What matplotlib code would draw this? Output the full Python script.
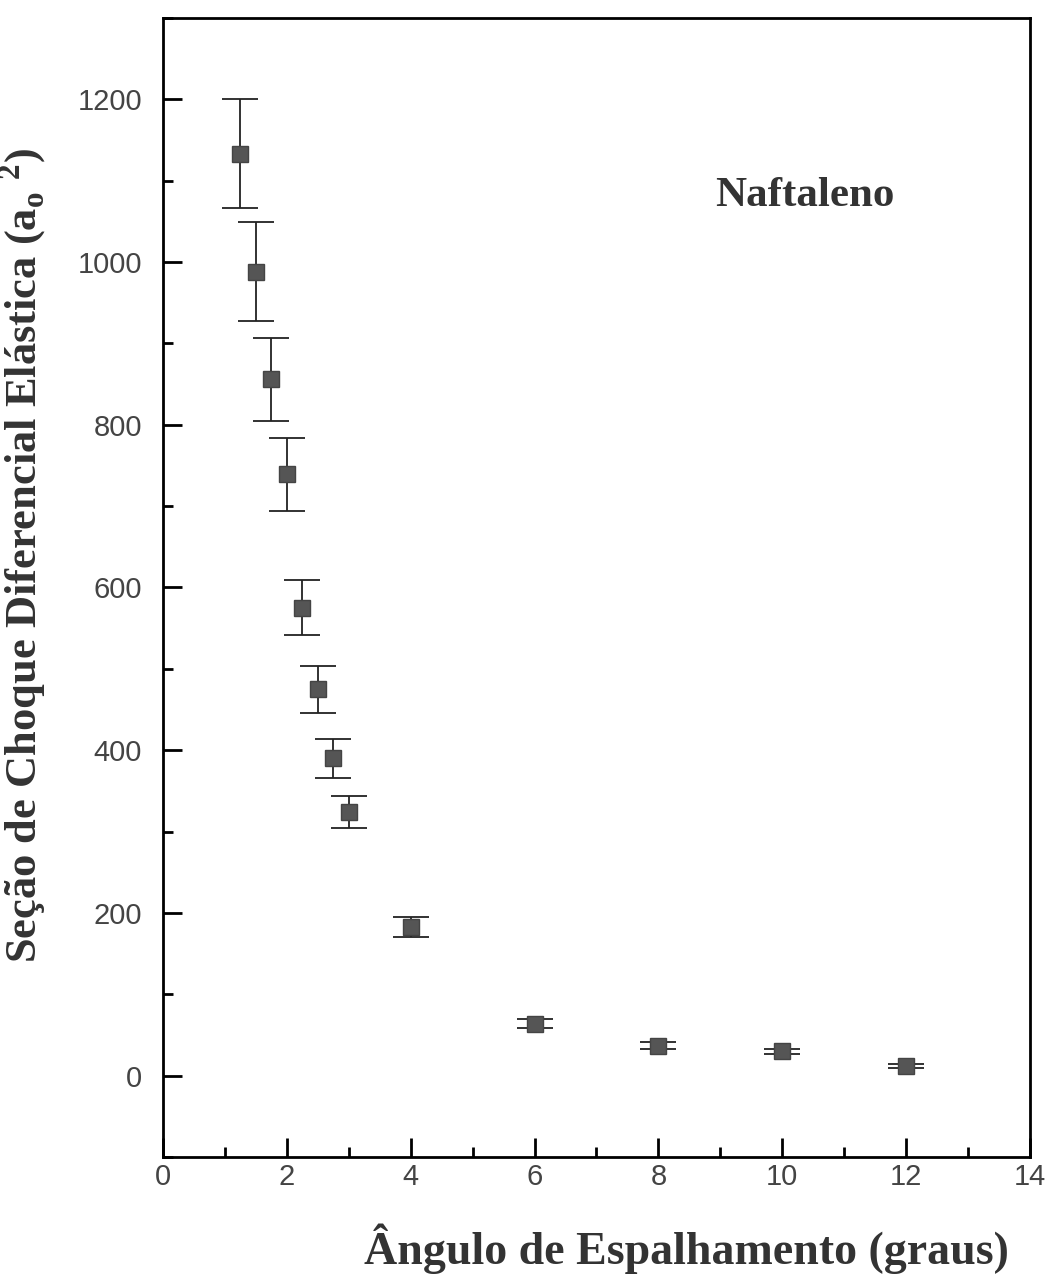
import numpy as np
import matplotlib.pyplot as plt
from matplotlib.ticker import MultipleLocator

# data
angulo = [1.25, 1.5, 1.75, 2.0, 2.25, 2.5, 2.75, 3.0, 4.0, 6.0, 8.0, 10.0, 12.0]
secao = [1133, 988, 856, 739, 575, 475, 390, 324, 183, 64, 37, 30, 12]
erro = [67, 61, 51, 45, 34, 29, 24, 20, 12, 5, 4, 3, 2]

serif = ['Liberation Serif', 'DejaVu Serif']
sans = ['Liberation Sans', 'DejaVu Sans']

fig = plt.figure(figsize=(10.61, 12.81), dpi=100)
ax = fig.add_axes([0.1536, 0.0968, 0.8172, 0.8892])

ax.errorbar(angulo, secao, yerr=erro, fmt='s', color='#555555', ms=12,
            mec='#444444', ecolor='#222222', elinewidth=1.3, capsize=13, capthick=1.3)

ax.set_xlim(0, 14)
ax.set_ylim(-100, 1300)
ax.xaxis.set_major_locator(MultipleLocator(2))
ax.xaxis.set_minor_locator(MultipleLocator(1))
ax.yaxis.set_minor_locator(MultipleLocator(100))
ax.set_yticks(np.arange(0, 1201, 200))
ax.tick_params(which='major', direction='in', length=14, width=2, labelsize=21)
ax.tick_params(which='minor', direction='in', length=7, width=2)
ax.tick_params(axis='x', pad=4)
ax.tick_params(axis='y', pad=15)
for lab in ax.get_xticklabels() + ax.get_yticklabels():
    lab.set_family(sans)
    lab.set_color('#444444')
for s in ax.spines.values():
    s.set_linewidth(2)

ax.set_xlabel('Ângulo de Espalhamento (graus)', family=serif, fontsize=33,
              fontweight='bold', color='#333333')
ax.xaxis.set_label_coords(0.604, -0.058, transform=ax.transAxes)
ax.xaxis.label.set_va('top')
ax.set_ylabel(r'Seção de Choque Diferencial Elástica (a$_\mathregular{o}$ $^\mathregular{2}$)',
              family=serif, fontsize=32, fontweight='bold', color='#333333')
ax.yaxis.set_label_coords(-0.131, 0.5285, transform=ax.transAxes)
ax.text(10.37, 1081, 'Naftaleno', family=serif, fontsize=31, fontweight='bold',
        color='#333333', ha='center', va='center')

fig.savefig('out.png', dpi=100)
